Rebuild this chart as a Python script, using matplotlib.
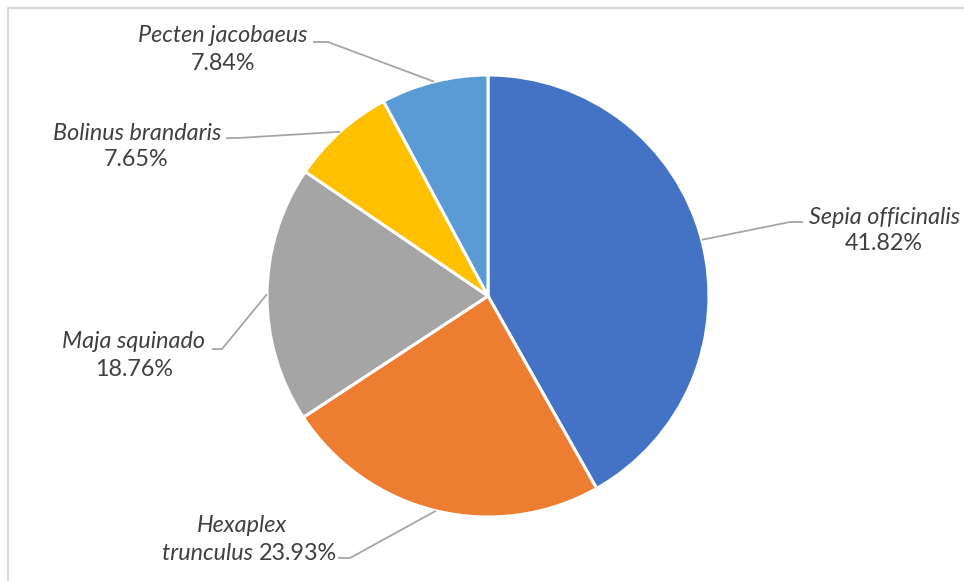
import numpy as np
import matplotlib.pyplot as plt

plt.rcParams['font.family'] = ['Lato', 'DejaVu Sans']

species = ['Sepia officinalis', 'Hexaplex trunculus', 'Maja squinado',
           'Bolinus brandaris', 'Pecten jacobaeus']
shares = [41.82, 23.93, 18.76, 7.65, 7.84]
colors = ['#4472C4', '#ED7D31', '#A5A5A5', '#FFC000', '#5B9BD5']

W, H = 964, 581
cx, cy, R = 488, H - 296, 221
txt_color = '#404040'
line_color = '#A6A6A6'
fs = 16.8

fig = plt.figure(figsize=(W / 100, H / 100), dpi=100)
ax = fig.add_axes([0, 0, 1, 1])

# frame (only top/left visible in crop)
ax.plot([7.5, 7.5, W], [0, H - 7.5, H - 7.5], color='#D9D9D9', lw=1.5,
        solid_capstyle='butt', clip_on=False)

wedges, _ = ax.pie(shares, colors=colors, startangle=90, counterclock=False,
                   center=(cx, cy), radius=R, frame=True,
                   wedgeprops=dict(edgecolor='white', linewidth=2.2))
ax.set_xlim(0, W)
ax.set_ylim(0, H)
ax.set_aspect('equal')
ax.axis('off')

# label text positions and elbow points, image coords (y down)
layout = {
    'Sepia officinalis': dict(lines=[(885, 217), (884, 244)], elbow=[(790, 222), (803, 222)]),
    'Hexaplex trunculus': dict(lines=[(242, 526), (259, 553)], elbow=[(350, 558), (338, 558)]),
    'Maja squinado': dict(lines=[(134, 342), (134, 370)], elbow=[(222, 349), (212, 349)]),
    'Bolinus brandaris': dict(lines=[(137, 133), (136, 160)], elbow=[(238, 138), (226, 138)]),
    'Pecten jacobaeus': dict(lines=[(223, 36), (223, 63)], elbow=[(328, 42), (313, 42)]),
}

for w, name, val in zip(wedges, species, shares):
    mid = np.deg2rad((w.theta1 + w.theta2) / 2)
    px, py = cx + R * np.cos(mid), cy + R * np.sin(mid)
    lay = layout[name]
    (e1x, e1y), (e2x, e2y) = lay['elbow']
    ax.plot([px, e1x, e2x], [py, H - e1y, H - e2y], color=line_color, lw=1.3,
            solid_capstyle='butt', zorder=1)
    (l1x, l1y), (l2x, l2y) = lay['lines']
    if name == 'Hexaplex trunculus':
        first, second = name.split(' ')
        ax.text(l1x, H - l1y, first, style='italic', fontsize=fs, color=txt_color,
                ha='center', va='center')
        ax.text(l2x, H - l2y, second + ' ', style='italic', fontsize=fs, color=txt_color,
                ha='right', va='center')
        ax.text(l2x, H - l2y, f'{val:.2f}%', fontsize=fs, color=txt_color,
                ha='left', va='center')
    else:
        ax.text(l1x, H - l1y, name, style='italic', fontsize=fs, color=txt_color,
                ha='center', va='center')
        ax.text(l2x, H - l2y, f'{val:.2f}%', fontsize=fs, color=txt_color,
                ha='center', va='center')

fig.savefig('out.png', dpi=100)
